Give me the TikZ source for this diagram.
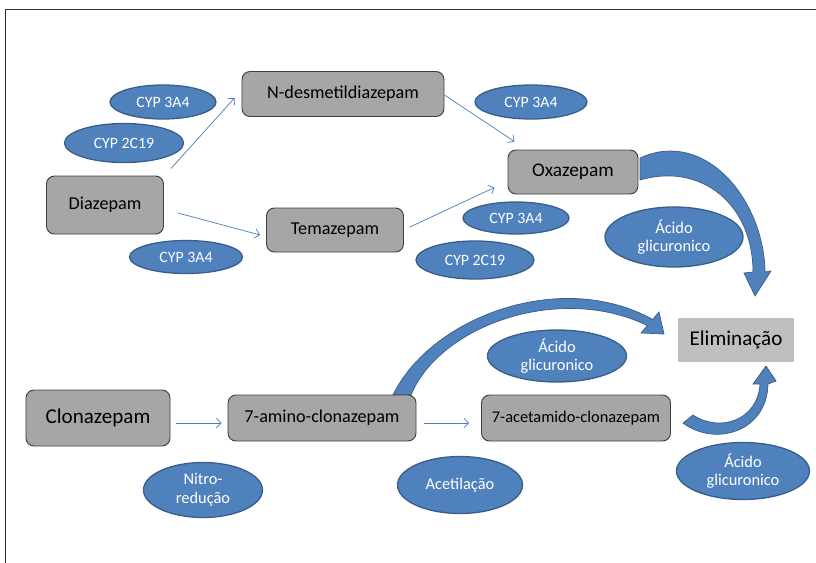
\documentclass[tikz,border=0pt]{standalone}
\usepackage{fontspec}
\setmainfont{Carlito}
\usetikzlibrary{shapes.geometric,arrows.meta}
\definecolor{boxgray}{HTML}{A6A6A6}
\definecolor{elimgray}{HTML}{BFBFBF}
\definecolor{elblue}{HTML}{4F81BD}
\definecolor{elborder}{HTML}{385D8A}
\definecolor{linkblue}{HTML}{4A7EBB}
\tikzset{
	droga/.style={rectangle,rounded corners=0.24cm,draw=black!75,line width=0.8pt,fill=boxgray,align=center,inner sep=0pt,font=\fontsize{15.5}{18}\selectfont},
	enzima/.style={ellipse,draw=elborder,line width=1.1pt,fill=elblue,text=white,align=center,inner sep=0pt,font=\fontsize{13.5}{16}\selectfont},
	fluxo/.style={draw=linkblue,line width=0.6pt,-{Straight Barb[length=4pt,width=8pt]}},
	grossa/.style={fill=elblue,draw=elborder,line width=0.6pt}
}
\begin{document}
\begin{tikzpicture}[x=0.03cm,y=-0.03cm]
	\useasboundingbox (0,0) rectangle (816,563);
	\draw[line width=0.8pt,black!80] (5,563) -- (5,9.5) -- (816,9.5);
	% block arrows
	\filldraw[grossa] (640,158) .. controls (705,128) and (764,200) .. (765,272) -- (771,271) -- (755,296) -- (744,273) -- (753,272) .. controls (753,205) and (702,162) .. (640,180) -- cycle;
	\filldraw[grossa] (393,395) .. controls (430,318) and (560,268) .. (652.6,319.4) -- (659,312) -- (664,334) -- (641,333) -- (647.4,325.6) .. controls (560,283) and (440,325) .. (411,395) -- cycle;
	\filldraw[grossa] (683,423) .. controls (715,447) and (767,432) .. (768,384) -- (776,381) -- (766,366) -- (753,384) -- (760,384) .. controls (758,420) and (720,433) .. (693,415) -- cycle;
	% drugs
	\node[droga,minimum width=6.06cm,minimum height=1.35cm] (ndes) at (343,94) {N-desmetildiazepam};
	\node[droga,minimum width=3.51cm,minimum height=1.74cm] (diaz) at (105,205) {Diazepam};
	\node[droga,minimum width=4.11cm,minimum height=1.32cm] (tema) at (335,230) {Temazepam};
	\node[droga,minimum width=3.9cm,minimum height=1.32cm,font=\fontsize{16.5}{19}\selectfont] (oxa) at (573,172) {Oxazepam};
	\node[droga,minimum width=4.32cm,minimum height=1.68cm,font=\fontsize{18}{21}\selectfont] (clona) at (98,418) {Clonazepam};
	\node[droga,minimum width=5.64cm,minimum height=1.38cm] (amino) at (322,418) {7-amino-clonazepam};
	\node[droga,minimum width=5.67cm,minimum height=1.38cm,font=\fontsize{14}{17}\selectfont] (acet) at (576,418) {7-acetamido-clonazepam};
	\node[droga,draw=none,rounded corners=0pt,fill=elimgray,minimum width=3.48cm,minimum height=1.32cm,font=\fontsize{18}{21}\selectfont] (elim) at (736,340) {Eliminação};
	% enzymes
	\node[enzima,minimum width=3.18cm,minimum height=1.02cm] (cypa) at (163,102) {CYP 3A4};
	\node[enzima,minimum width=3.57cm,minimum height=1.17cm] (cypb) at (124,143) {CYP 2C19};
	\node[enzima,minimum width=3.39cm,minimum height=0.99cm] (cypc) at (186,257) {CYP 3A4};
	\node[enzima,minimum width=3.36cm,minimum height=1.02cm] (cypd) at (531,102) {CYP 3A4};
	\node[enzima,minimum width=3.18cm,minimum height=0.96cm] (cype) at (516,218) {CYP 3A4};
	\node[enzima,minimum width=3.54cm,minimum height=1.14cm] (cypf) at (475,260) {CYP 2C19};
	\node[enzima,minimum width=4.14cm,minimum height=1.8cm,font=\fontsize{14}{15.5}\selectfont] (acidoa) at (674,237) {Ácido\\glicuronico};
	\node[enzima,minimum width=4.17cm,minimum height=1.56cm,font=\fontsize{14}{15.5}\selectfont] (acidob) at (557,356) {Ácido\\glicuronico};
	\node[enzima,minimum width=3.99cm,minimum height=1.71cm,font=\fontsize{14}{15.5}\selectfont] (acidoc) at (743,471) {Ácido\\glicuronico};
	\node[enzima,minimum width=3.57cm,minimum height=1.65cm,font=\fontsize{14}{16.5}\selectfont] (nitro) at (203,490) {Nitro-\\redução};
	\node[enzima,minimum width=3.75cm,minimum height=1.71cm,font=\fontsize{14}{16}\selectfont] (acetil) at (460,485) {Acetilação};
	% thin arrows
	\draw[fluxo] ([shift={(7,-7)}]diaz.north east) -- ([shift={(-7,4)}]ndes.west);
	\draw[fluxo] ([shift={(14,8)}]diaz.east) -- ([shift={(-6,5)}]tema.west);
	\draw[fluxo] ([shift={(0,1)}]ndes.east) -- ([shift={(7,-8)}]oxa.north west);
	\draw[fluxo] ([shift={(6,-3)}]tema.east) -- ([shift={(-13,-7)}]oxa.south west);
	\draw[fluxo] ([shift={(6,5)}]clona.east) -- ([shift={(-6,5)}]amino.west);
	\draw[fluxo] ([shift={(8,5)}]amino.east) -- ([shift={(-12,5)}]acet.west);
\end{tikzpicture}
\end{document}
